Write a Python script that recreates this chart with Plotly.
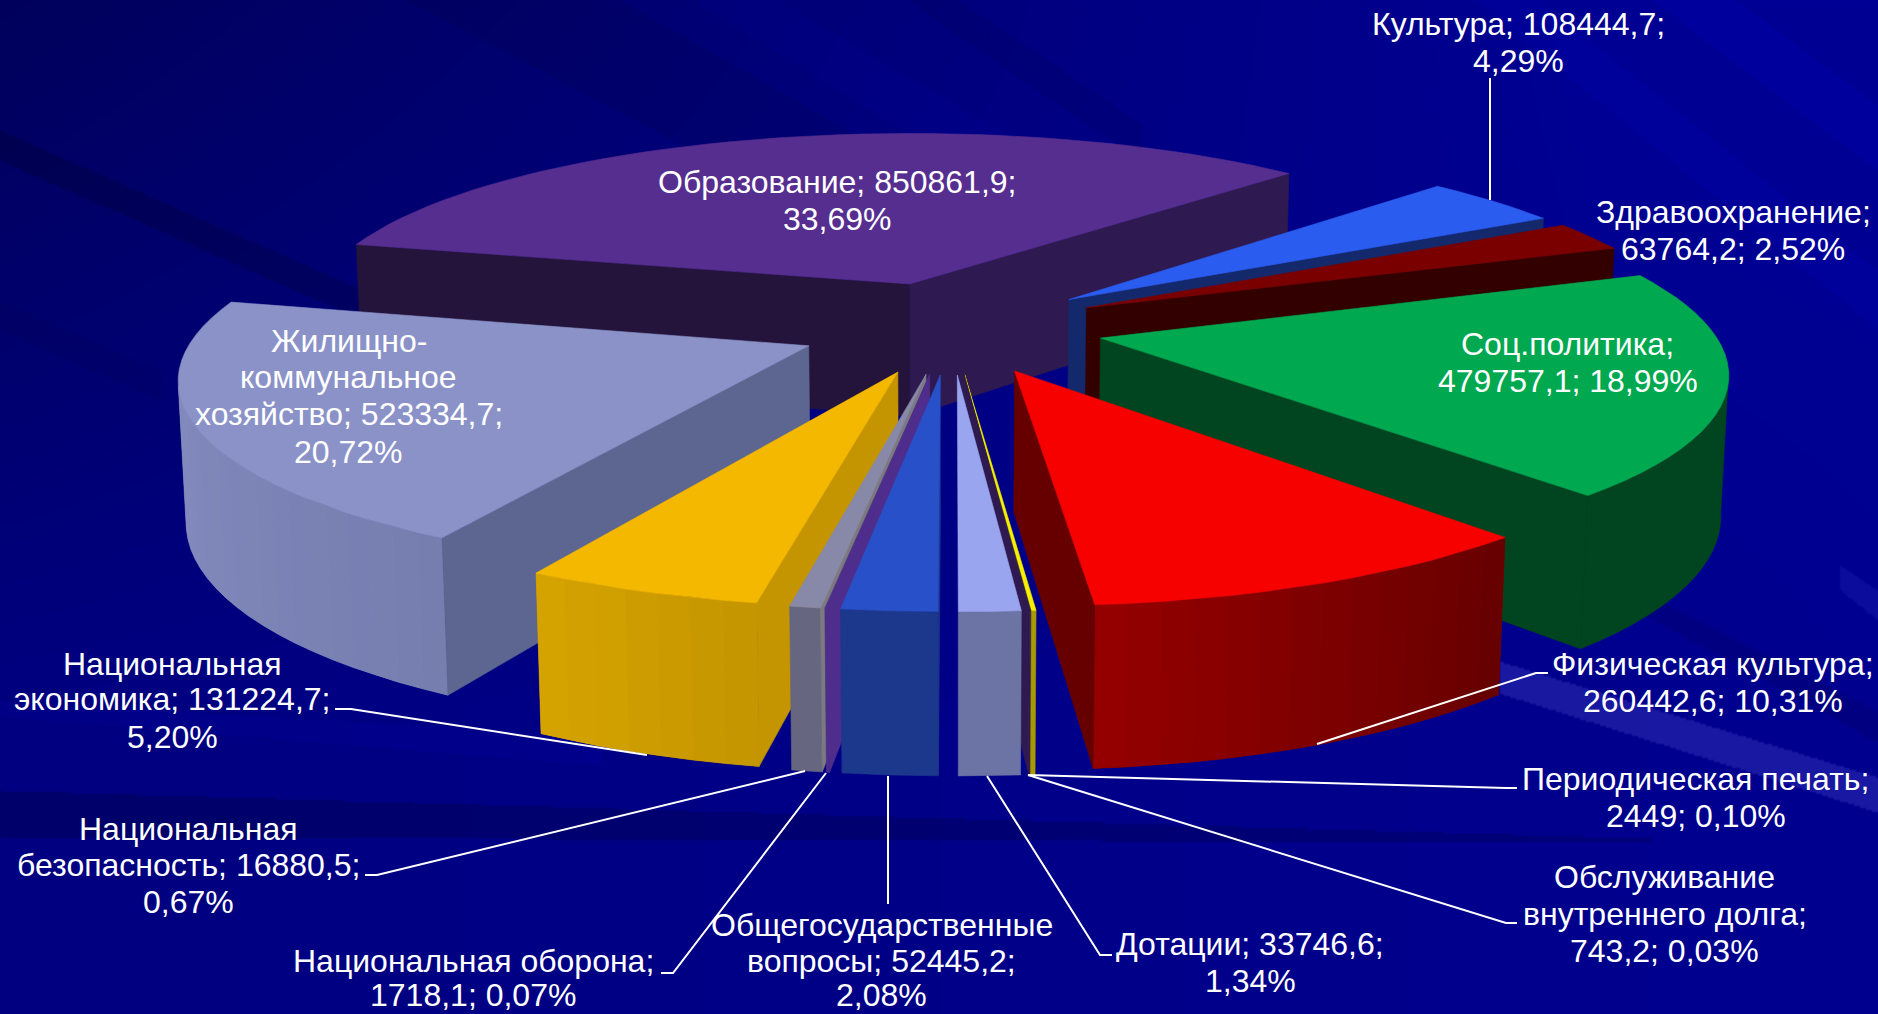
import base64, math, struct, zlib
import numpy as np
import plotly.graph_objects as go

# ---- data ----
categories = ["Культура", "Здравоохранение", "Соц.политика", "Физическая культура",
              "Периодическая печать", "Обслуживание внутреннего долга", "Дотации",
              "Общегосударственные вопросы", "Национальная оборона",
              "Национальная безопасность", "Национальная экономика",
              "Жилищно-коммунальное хозяйство", "Образование"]
values = [108444.7, 63764.2, 479757.1, 260442.6, 2449, 743.2, 33746.6,
          52445.2, 1718.1, 16880.5, 131224.7, 523334.7, 850861.9]

# ---- styles: top, wall at start angle, wall at end angle, rim at start, rim at end ----
styles = [
    ("#2b5cf0", "#14296b", "#14296b", "#14296b", "#14296b"),
    ("#7a0000", "#330000", "#330000", "#330000", "#330000"),
    ("#00a84f", "#00451f", "#00451f", "#00451f", "#00451f"),
    ("#f60000", "#660000", "#660000", "#650000", "#960000"),
    ("#f5f000", "#a89a00", "#a89a00", "#a89a00", "#a89a00"),
    ("#2e1a50", "#2e1a50", "#2e1a50", "#2e1a50", "#2e1a50"),
    ("#9aa5f0", "#6c74a6", "#6c74a6", "#6c74a6", "#6c74a6"),
    ("#2850c8", "#1c388c", "#1c388c", "#1c388c", "#1c388c"),
    ("#4f2d8c", "#4f2d8c", "#4f2d8c", "#4f2d8c", "#4f2d8c"),
    ("#8888a8", "#7a7a80", "#7a7a80", "#666680", "#666680"),
    ("#f5b800", "#c49500", "#c49500", "#c49500", "#d6a400"),
    ("#8a92c8", "#5c6690", "#5c6690", "#767eb0", "#8a92c6"),
    ("#562e90", "#24143c", "#2e1a50", "#24143c", "#2e1a50"),
]
draw_order = [12, 0, 1, 2, 11, 3, 10, 4, 5, 9, 8, 6, 7]

# ---- projection of the exploded 3-D pie ----
START = 45.0
CX, CY = 950.5, 327.0
K, Q, P, T, R = 611.0, 185.0, 0.15, 138.0, 0.010
SHEAR = 4.0
EXPLODE = 0.25
CAM_V = 1.0 / P


def hex2rgb(c):
    return tuple(int(c[i:i + 2], 16) for i in (1, 3, 5))


def mix(a, b, t):
    a, b = hex2rgb(a), hex2rgb(b)
    return "#%02x%02x%02x" % tuple(round(a[i] + (b[i] - a[i]) * t) for i in range(3))


def d(theta):
    r = math.radians(theta)
    return math.sin(r), -math.cos(r)


def top(u, v):
    w = 1 - P * v
    return CX + K * u / w + SHEAR * v, CY + Q * v / w


def bot(u, v):
    w = 1 - P * v + R
    return CX + K * u / w + SHEAR * v, CY + (Q * v + T) / w


fig = go.Figure()


def poly(pts, color, lw=0.6):
    xs = [p[0] for p in pts] + [pts[0][0]]
    ys = [p[1] for p in pts] + [pts[0][1]]
    fig.add_trace(go.Scatter(x=xs, y=ys, mode="lines", fill="toself", fillcolor=color,
                             line=dict(color=color, width=lw), hoverinfo="skip",
                             showlegend=False))


total = sum(values)
spans = []
a = START
for val in values:
    b = a + val / total * 360.0
    spans.append((a, b))
    a = b

for i in draw_order:
    a, b = spans[i]
    mid = (a + b) / 2
    mu, mv = d(mid)
    au, av = mu * EXPLODE, mv * EXPLODE
    c_top, c_ws, c_we, c_rs, c_re = styles[i]
    steps = max(2, int((b - a) / 2.5))
    th = [a + (b - a) * s / steps for s in range(steps + 1)]
    rim = [(au + d(t)[0], av + d(t)[1]) for t in th]
    # outer rim: solid underlay, then shaded facets
    front = []
    for s in range(steps):
        tm = (th[s] + th[s + 1]) / 2
        nx, ny = d(tm)
        pu, pv = rim[s]
        if nx * (0 - pu) + ny * (CAM_V - pv) > 0:
            front.append(s)
    if front:
        idx = list(range(front[0], front[-1] + 2))
        poly([top(*rim[j]) for j in idx] + [bot(*rim[j]) for j in reversed(idx)],
             mix(c_rs, c_re, 0.5))
        for s in front:
            c = mix(c_rs, c_re, (s + .5) / steps)
            if c_rs != c_re:
                poly([top(*rim[s]), top(*rim[s + 1]), bot(*rim[s + 1]), bot(*rim[s])], c, 0)
    # radial walls
    ra, rb = math.radians(a), math.radians(b)
    if -math.cos(ra) * (0 - au) - math.sin(ra) * (CAM_V - av) > 0:
        poly([top(au, av), top(*rim[0]), bot(*rim[0]), bot(au, av)], c_ws)
    if math.cos(rb) * (0 - au) + math.sin(rb) * (CAM_V - av) > 0:
        poly([top(au, av), top(*rim[-1]), bot(*rim[-1]), bot(au, av)], c_we)
    # top face
    poly([top(au, av)] + [top(*p) for p in rim], c_top)

# ---- labels: text lines with centre x and the y of each line ----
S = 1878 / 1568
labels = [
    (["Культура; 108444,7;", "4,29%"], 1268, [20, 51]),
    (["Здравоохранение;", "63764,2; 2,52%"], 1447, [177, 208]),
    (["Соц.политика;", "479757,1; 18,99%"], 1309, [287, 318]),
    (["Физическая культура;", "260442,6; 10,31%"], 1430, [554, 585]),
    (["Периодическая печать;", "2449; 0,10%"], 1416, [650, 681]),
    (["Обслуживание", "внутреннего долга;", "743,2; 0,03%"], 1390, [732, 763, 794]),
    (["Дотации; 33746,6;", "1,34%"], 1044, [788, 819]),
    (["Общегосударственные", "вопросы; 52445,2;", "2,08%"], 736, [772, 802, 831]),
    (["Национальная оборона;", "1718,1; 0,07%"], 395, [802, 831]),
    (["Национальная", "безопасность; 16880,5;", "0,67%"], 157, [692, 722, 753]),
    (["Национальная", "экономика; 131224,7;", "5,20%"], 144, [554, 584, 615]),
    (["Жилищно-", "коммунальное", "хозяйство; 523334,7;", "20,72%"], 291, [285, 315, 346, 377]),
    (["Образование; 850861,9;", "33,69%"], 699, [152, 183]),
]
annotations = []
for lines, x, ys in labels:
    for t, y in zip(lines, ys):
        annotations.append(dict(x=x * S, y=y * S, xref="x", yref="y", text=t, showarrow=False,
                                align="center", xanchor="center", yanchor="middle",
                                font=dict(family="Liberation Sans", size=32, color="white")))

leaders = [
    [(1490, 78), (1490, 200)],
    [(1317, 744), (1536, 673), (1548, 673)],
    [(1028, 775), (1506, 788), (1517, 788)],
    [(1028, 775), (1506, 923), (1517, 923)],
    [(987, 776), (1100, 955), (1112, 955)],
    [(888, 776), (888, 904)],
    [(826, 773), (673, 973), (661, 973)],
    [(805, 771), (377, 875), (365, 875)],
    [(647, 755), (351, 709), (335, 709)],
]
shapes = []
for pts in leaders:
    path = "M " + " L ".join(f"{x},{y}" for x, y in pts)
    shapes.append(dict(type="path", path=path, xref="x", yref="y", layer="above",
                       line=dict(color="white", width=2)))

# ---- background picture: navy gradient with soft strips ----
W, H = 1878, 1014
yy, xx = np.mgrid[0:H, 0:W].astype(float)
t = np.clip(yy / 700, 0, 1)
top_b = 0x5c + 0x38 * np.clip(xx / 1600, 0, 1)
bot_b = 0x80 + 0x10 * xx / 1878
blue = top_b + (bot_b - top_b) * t
rg = np.zeros_like(blue)
# strips: x0, y0 upper, y0 lower, x1, y1 upper, y1 lower, blue change, red/green added
strips = [
    (0, 130, 160, 420, 315, 345, -18, 0),
    (0, 300, 330, 160, 370, 400, -6, 0),
    (200, -240, -110, 900, 160, 260, -9, 0),
    (900, -40, -5, 1140, 123, 160, -9, 0),
    (700, -45, 5, 1000, 130, 190, 6, 0),
    (1400, -110, -60, 1878, 270, 330, 8, 0),
    (1600, -100, -40, 1878, 105, 170, 10, 0),
    (1500, 661, 693, 1878, 777, 812, 20, 24),
    (1640, 590, 612, 1878, 712, 742, -14, 0),
    (1840, 565, 590, 1878, 590, 620, 12, 12),
    (0, 790, 836, 1650, 838, 842, -22, 0),
    (0, 700, 716, 600, 735, 765, 7, 0),
]
for x0, a0, b0, x1, a1, b1, dv, dc in strips:
    f = (xx - x0) / (x1 - x0)
    up = a0 + (a1 - a0) * f
    lo = b0 + (b1 - b0) * f
    m = (f >= 0) & (f <= 1) & (yy >= up) & (yy < lo)
    blue = blue + dv * m
    rg = rg + dc * m
rgb = np.stack([rg, rg, np.clip(blue, 0, 255)], axis=2).astype(np.uint8)
rgb = rgb[::2, ::2]
H2, W2 = rgb.shape[:2]
raw = b"".join(b"\x00" + rgb[r].tobytes() for r in range(H2))


def chunk(tag, data):
    c = struct.pack(">I", len(data)) + tag + data
    return c + struct.pack(">I", zlib.crc32(tag + data) & 0xffffffff)


png = (b"\x89PNG\r\n\x1a\n" + chunk(b"IHDR", struct.pack(">IIBBBBB", W2, H2, 8, 2, 0, 0, 0)) +
       chunk(b"IDAT", zlib.compress(raw, 9)) + chunk(b"IEND", b""))
bg = "data:image/png;base64," + base64.b64encode(png).decode()

fig.update_layout(
    width=1878, height=1014, autosize=False,
    margin=dict(l=0, r=0, t=0, b=0),
    paper_bgcolor="#000088", plot_bgcolor="rgba(0,0,0,0)",
    xaxis=dict(range=[0, 1878], visible=False, fixedrange=True),
    yaxis=dict(range=[1014, 0], visible=False, fixedrange=True),
    showlegend=False, annotations=annotations, shapes=shapes,
    images=[dict(source=bg, xref="x", yref="y", x=0, y=0, sizex=1878, sizey=1014,
                 sizing="stretch", layer="below", xanchor="left", yanchor="top")],
)
fig.write_html("out.html", post_script="document.body.style.margin='0';document.body.style.overflow='hidden';",
               config=dict(displayModeBar=False))
